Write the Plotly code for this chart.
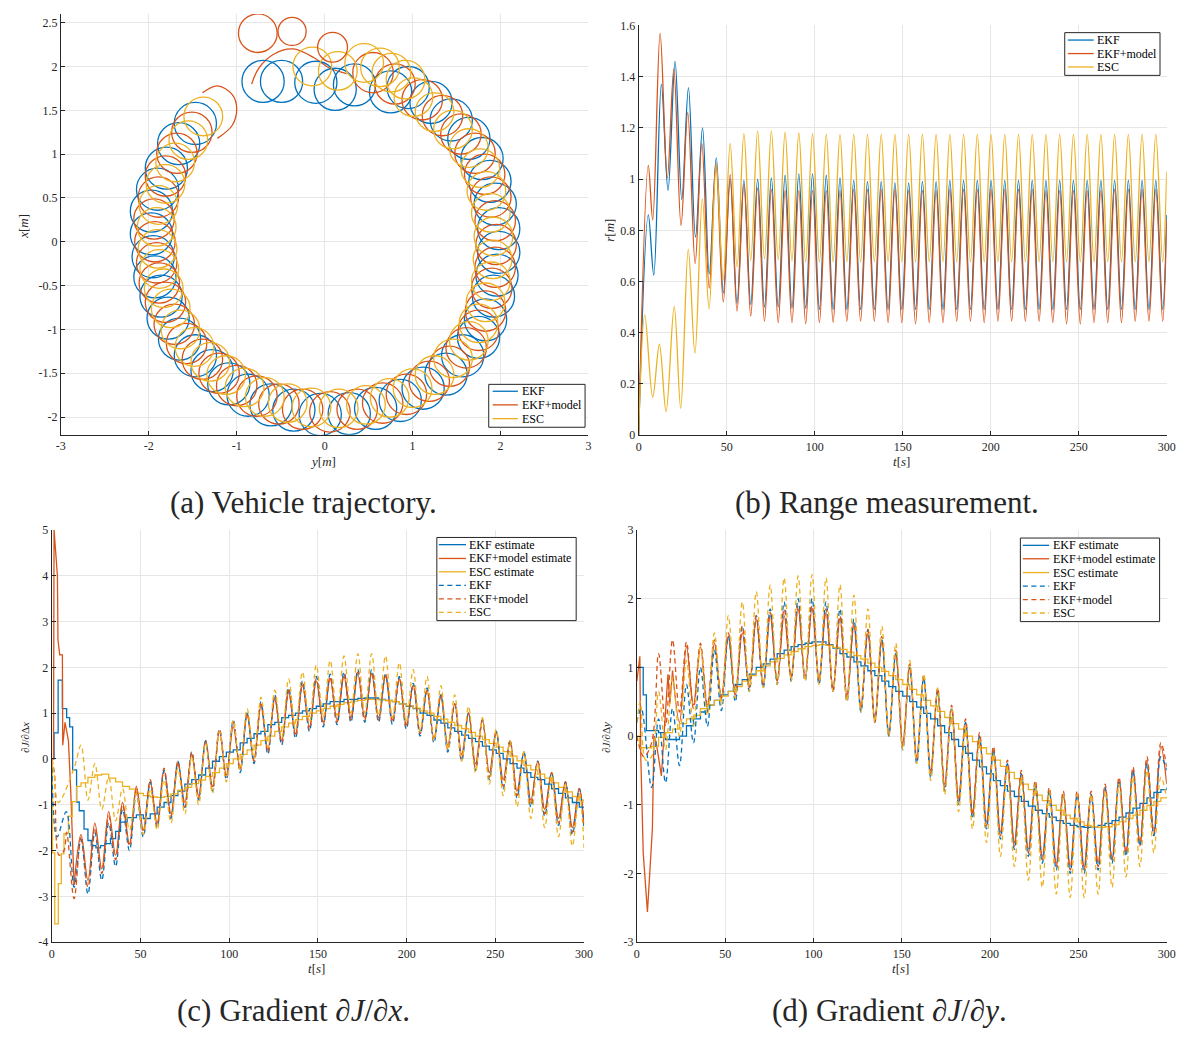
import plotly.graph_objects as go

W, H = 1186, 1039
BLUE, RED, YEL = "#0072BD", "#D95319", "#EDB120"
FONT = "Liberation Serif"
INK = "#262626"
GRIDC = "#E6E6E6"
DASH = "5px,3.5px"

# ---------------- (a) Vehicle trajectory : loop centres ----------------
EKF_LOOP_Y = [-0.70, -0.49, -0.10, 0.12, 0.34, 0.75,
              -1.47, -1.66, -1.80, -1.90, -1.97, -1.97, -1.95, -1.93, -1.86, -1.78,
              -1.65, -1.47, -1.28, -1.09, -0.87, -0.61, -0.35, -0.05, 0.28, 0.58,
              0.86, 1.12, 1.38, 1.57, 1.75, 1.83, 1.92, 1.96, 1.98, 1.98,
              1.94, 1.88, 1.79, 1.64, 1.44, 1.21, 0.95]
EKF_LOOP_X = [1.83, 1.83, 1.82, 1.74, 1.79, 1.71,
              1.35, 1.12, 0.84, 0.60, 0.35, 0.09, -0.17, -0.40, -0.62, -0.87,
              -1.11, -1.30, -1.47, -1.62, -1.75, -1.86, -1.92, -1.97, -1.96, -1.90,
              -1.81, -1.67, -1.51, -1.30, -1.09, -0.89, -0.62, -0.38, -0.12, 0.15,
              0.43, 0.69, 0.95, 1.18, 1.39, 1.59, 1.76]
EKF_LOOP_R = 0.24

MOD_LOOP_Y = [0.80, 0.55,
              -1.51, -1.68, -1.81, -1.89, -1.94, -1.93, -1.91, -1.88, -1.81, -1.71,
              -1.57, -1.39, -1.20, -1.00, -0.77, -0.52, -0.25, 0.06, 0.37, 0.66,
              0.93, 1.19, 1.42, 1.61, 1.75, 1.83, 1.90, 1.94, 1.95, 1.94,
              1.89, 1.82, 1.71, 1.55, 1.34, 1.11]
MOD_LOOP_X = [1.80, 1.93,
              1.25, 1.01, 0.75, 0.51, 0.26, 0.00, -0.24, -0.47, -0.69, -0.94,
              -1.16, -1.34, -1.50, -1.64, -1.76, -1.85, -1.91, -1.94, -1.91, -1.84,
              -1.74, -1.59, -1.42, -1.21, -1.01, -0.79, -0.53, -0.29, -0.03, 0.24,
              0.51, 0.77, 1.01, 1.23, 1.44, 1.62]
MOD_LOOP_R = 0.23
MOD_PETAL_Y = [-0.76, -0.37, 0.09]
MOD_PETAL_X = [2.38, 2.40, 2.22]
MOD_PETAL_R = [0.22, 0.16, 0.17]
MOD_ARC_Y = [-0.83, -0.75, -0.58, -0.36, -0.12, 0.06, 0.25]
MOD_ARC_X = [1.80, 1.98, 2.14, 2.20, 2.10, 1.98, 1.92]
MOD_HOOK_Y = [-1.39, -1.22, -1.05, -1.00, -1.05, -1.22]
MOD_HOOK_X = [1.70, 1.78, 1.68, 1.52, 1.33, 1.18]

ESC_LOOP_Y = [-0.14, 0.15, 0.45, 0.63, 0.76, 0.92, -1.38,
              -1.55, -1.70, -1.81, -1.89, -1.91, -1.90, -1.88, -1.83, -1.75, -1.64,
              -1.48, -1.30, -1.12, -0.91, -0.68, -0.42, -0.15, 0.16, 0.47, 0.74,
              1.00, 1.25, 1.46, 1.64, 1.75, 1.83, 1.89, 1.91, 1.92, 1.89,
              1.84, 1.77, 1.64, 1.46, 1.25, 1.01]
ESC_LOOP_X = [2.00, 1.95, 2.04, 1.99, 1.93, 1.85, 1.43,
              1.16, 0.905, 0.66, 0.42, 0.17, -0.08, -0.31, -0.53, -0.76, -1.00,
              -1.20, -1.37, -1.52, -1.66, -1.77, -1.84, -1.89, -1.90, -1.86, -1.78,
              -1.67, -1.52, -1.33, -1.13, -0.93, -0.69, -0.45, -0.20, 0.06, 0.33,
              0.58, 0.84, 1.07, 1.28, 1.48, 1.65]
ESC_LOOP_R = 0.22

# ---------------- (b) Range measurement : extremes (t, r) ----------------
GRID_B = [52.0, 55.9, 59.8, 63.7, 67.6,
          71.5, 75.4, 79.3, 83.2, 87.1,
          91.0, 94.9, 98.8, 102.7, 106.6,
          110.5, 114.4, 118.3, 122.2, 126.1,
          130.0, 133.9, 137.8, 141.7, 145.6,
          149.5, 153.4, 157.3, 161.2, 165.1,
          169.0, 172.9, 176.8, 180.7, 184.6,
          188.5, 192.4, 196.3, 200.2, 204.1,
          208.0, 211.9, 215.8, 219.7, 223.6,
          227.5, 231.4, 235.3, 239.2, 243.1,
          247.0, 250.9, 254.8, 258.7, 262.6,
          266.5, 270.4, 274.3, 278.2, 282.1,
          286.0, 289.9, 293.8, 297.7, 300.0]

R_EKF_T0 = [0, 5.5, 8.6, 12.9, 16.7, 20.7, 24.5, 28.3, 32.3, 36.3, 40.1, 44.1, 48.1]
R_EKF_V0 = [0, 0.86, 0.625, 1.37, 0.956, 1.46, 0.92, 1.357, 0.773, 1.2, 0.63, 1.083, 0.555]
R_EKF = [1.0, 0.515, 0.995, 0.51, 1.0,
         0.5, 1.005, 0.5, 1.015, 0.495,
         1.02, 0.495, 1.02, 0.49, 1.015,
         0.49, 1.005, 0.49, 0.995, 0.49,
         0.99, 0.49, 0.99, 0.49, 0.985,
         0.49, 0.985, 0.49, 0.99, 0.49,
         0.99, 0.49, 0.995, 0.49, 0.995,
         0.49, 0.995, 0.49, 0.995, 0.49,
         0.995, 0.49, 0.995, 0.49, 0.995,
         0.49, 0.995, 0.49, 0.995, 0.49,
         0.995, 0.49, 0.995, 0.49, 0.995,
         0.49, 0.995, 0.49, 0.995, 0.49,
         0.995, 0.49, 0.995, 0.49, 0.86]

R_MOD_T0 = [0, 5.5, 8.0, 12.2, 16.3, 20.0, 24.1, 27.9, 32.1, 35.9, 40.1, 43.9, 48.1]
R_MOD_V0 = [0, 1.053, 0.84, 1.569, 1.004, 1.43, 0.818, 1.26, 0.67, 1.139, 0.574, 1.06, 0.52]
R_MOD = [1.017, 0.484, 0.978, 0.465, 0.965,
         0.445, 0.96, 0.44, 0.955, 0.44,
         0.955, 0.435, 0.955, 0.44, 0.955,
         0.44, 0.955, 0.445, 0.96, 0.445,
         0.96, 0.445, 0.96, 0.44, 0.96,
         0.44, 0.955, 0.435, 0.955, 0.44,
         0.955, 0.44, 0.96, 0.445, 0.96,
         0.445, 0.96, 0.44, 0.96, 0.445,
         0.96, 0.445, 0.96, 0.445, 0.96,
         0.445, 0.955, 0.44, 0.955, 0.435,
         0.955, 0.435, 0.955, 0.44, 0.955,
         0.44, 0.96, 0.44, 0.96, 0.445,
         0.96, 0.445, 0.96, 0.445, 0.84]

R_ESC_T0 = [0, 3.5, 8.0, 11.8, 15.6, 20.2, 23.9, 28.2, 32.0, 36.2, 40.0, 44.1, 48.0]
R_ESC_V0 = [0, 0.47, 0.148, 0.355, 0.092, 0.503, 0.105, 0.725, 0.32, 0.923, 0.493, 1.06, 0.606]
R_ESC = [1.139, 0.657, 1.177, 0.683, 1.187,
         0.689, 1.187, 0.685, 1.183, 0.68,
         1.18, 0.677, 1.177, 0.677, 1.175,
         0.677, 1.175, 0.677, 1.175, 0.677,
         1.175, 0.677, 1.175, 0.677, 1.175,
         0.677, 1.175, 0.677, 1.175, 0.677,
         1.175, 0.677, 1.175, 0.677, 1.175,
         0.677, 1.175, 0.677, 1.175, 0.677,
         1.175, 0.677, 1.175, 0.677, 1.175,
         0.677, 1.175, 0.677, 1.175, 0.677,
         1.175, 0.677, 1.175, 0.677, 1.175,
         0.677, 1.175, 0.677, 1.175, 0.677,
         1.175, 0.677, 1.175, 0.677, 1.03]

# ---------------- (c) Gradient dJ/dx ----------------
GRID_C = [12.6, 16.5, 20.4, 24.3, 28.2,
          32.1, 36.0, 39.9, 43.8, 47.7,
          51.6, 55.5, 59.4, 63.3, 67.2,
          71.1, 75.0, 78.9, 82.8, 86.7,
          90.6, 94.5, 98.4, 102.3, 106.2,
          110.1, 114.0, 117.9, 121.8, 125.7,
          129.6, 133.5, 137.4, 141.3, 145.2,
          149.1, 153.0, 156.9, 160.8, 164.7,
          168.6, 172.5, 176.4, 180.3, 184.2,
          188.1, 192.0, 195.9, 199.8, 203.7,
          207.6, 211.5, 215.4, 219.3, 223.2,
          227.1, 231.0, 234.9, 238.8, 242.7,
          246.6, 250.5, 254.4, 258.3, 262.2,
          266.1, 270.0, 273.9, 277.8, 281.7,
          285.6, 289.5, 293.4, 297.3, 300.0]

GX_EKF_EST_T0 = [0, 1.3, 3.6, 6.0, 8.4, 10.1, 11.8, 14.0, 15.5, 18.2, 20.4, 22.3,
                 24.9, 27.5, 29.8, 33.1, 36.0, 38.8, 42.5]
GX_EKF_EST_V0 = [0, 0.57, 1.72, 1.1, 0.9, 0.7, -0.24, -0.94, -1.13, -1.53, -1.78, -1.89,
                 -1.94, -1.89, -1.85, -1.74, -1.58, -1.38, -1.28]
GX_EKF_EST = [-1.22,
              -1.3, -1.2, -1.05, -0.95, -0.8,
              -0.7, -0.55, -0.45, -0.35, -0.2,
              -0.05, 0.05, 0.15, 0.2, 0.35,
              0.45, 0.55, 0.6, 0.75, 0.8,
              0.9, 0.95, 1.0, 1.05, 1.1,
              1.15, 1.2, 1.25, 1.25, 1.3,
              1.3, 1.32, 1.33, 1.33, 1.3,
              1.28, 1.25, 1.2, 1.15, 1.1,
              1.0, 0.95, 0.85, 0.78, 0.68,
              0.6, 0.52, 0.45, 0.38, 0.28,
              0.2, 0.12, 0.0, -0.1, -0.2,
              -0.3, -0.4, -0.45, -0.55, -0.65,
              -0.75, -0.85, -0.95, -1.05, -1.05]

GX_MOD_EST_T0 = [0, 1.0, 1.3, 3.2, 3.5, 4.5, 6.0, 6.2, 7.5, 8.5, 9.4, 10.7]
GX_MOD_EST_V0 = [0, 0, 5.0, 4.0, 2.6, 2.27, 2.27, 0.3, 0.8, 0.55, 0.4, -0.7]
GX_MOD_EST = [-2.75, -1.65, -2.65, -1.4, -2.4,
              -1.15, -2.1, -0.95, -1.85, -0.6,
              -1.55, -0.5, -1.4, -0.25, -1.2,
              -0.1, -0.95, 0.1, -0.8, 0.35,
              -0.6, 0.6, -0.35, 0.7, -0.2,
              0.95, 0.0, 1.15, 0.2, 1.3,
              0.4, 1.45, 0.55, 1.6, 0.7,
              1.7, 0.8, 1.75, 0.85, 1.8,
              0.9, 1.85, 0.9, 1.85, 0.9,
              1.8, 0.85, 1.75, 0.75, 1.6,
              0.6, 1.5, 0.45, 1.35, 0.3,
              1.2, 0.1, 1.0, -0.1, 0.85,
              -0.3, 0.6, -0.45, 0.4, -0.7,
              0.15, -0.9, -0.05, -1.1, -0.3,
              -1.3, -0.5, -1.5, -0.65, -1.45]

GX_ESC_EST_T0 = [0, 0.4, 1.7, 3.7, 5.4, 6.9, 9.4, 11.6, 14.0]
GX_ESC_EST_V0 = [0, -2.05, -3.6, -2.72, -2.07, -1.63, -1.25, -0.93, -0.6]
GX_ESC_EST = [-0.52, -0.4, -0.35, -0.33,
              -0.42, -0.5, -0.6, -0.66, -0.75,
              -0.8, -0.83, -0.84, -0.82, -0.76,
              -0.68, -0.62, -0.54, -0.46, -0.38,
              -0.3, -0.2, -0.1, 0.0, 0.1,
              0.2, 0.3, 0.4, 0.5, 0.6,
              0.7, 0.78, 0.86, 0.93, 1.0,
              1.05, 1.1, 1.15, 1.19, 1.23,
              1.26, 1.28, 1.3, 1.3, 1.29,
              1.27, 1.25, 1.2, 1.16, 1.11,
              1.05, 1.0, 0.93, 0.87, 0.8,
              0.73, 0.66, 0.58, 0.5, 0.42,
              0.34, 0.26, 0.16, 0.06, -0.04,
              -0.14, -0.24, -0.33, -0.42, -0.52,
              -0.62, -0.72, -0.82, -0.9, -0.96]

GX_EKF_T0 = [0, 3.0, 8.2]
GX_EKF_V0 = [0, -1.7, -1.15]
GX_EKF = [-2.8, -1.75, -2.95, -1.6, -2.65,
          -1.4, -2.35, -1.1, -2.0, -0.75,
          -1.7, -0.5, -1.5, -0.25, -1.3,
          -0.05, -1.1, 0.15, -0.9, 0.4,
          -0.7, 0.65, -0.45, 0.85, -0.3,
          1.0, -0.1, 1.25, 0.1, 1.4,
          0.3, 1.55, 0.45, 1.7, 0.6,
          1.8, 0.7, 1.85, 0.75, 1.9,
          0.8, 1.95, 0.8, 1.95, 0.8,
          1.85, 0.75, 1.8, 0.65, 1.65,
          0.5, 1.55, 0.35, 1.4, 0.15,
          1.2, -0.05, 1.0, -0.25, 0.85,
          -0.45, 0.6, -0.65, 0.4, -0.85,
          0.15, -1.05, -0.05, -1.25, -0.3,
          -1.45, -0.5, -1.65, -0.65, -1.55]

GX_MOD_T0 = [0, 1.5, 4.1, 6.9, 8.4]
GX_MOD_V0 = [0, -0.3, -2.1, -2.0, -1.6]
GX_MOD = [-3.05, -1.7, -2.8, -1.5, -2.5,
          -1.25, -2.2, -1.0, -1.9, -0.65,
          -1.6, -0.45, -1.45, -0.2, -1.25,
          -0.05, -1.05, 0.15, -0.85, 0.4,
          -0.65, 0.65, -0.4, 0.8, -0.25,
          1.0, -0.05, 1.2, 0.15, 1.35,
          0.35, 1.5, 0.5, 1.65, 0.65,
          1.75, 0.75, 1.8, 0.8, 1.85,
          0.85, 1.9, 0.85, 1.9, 0.85,
          1.85, 0.8, 1.75, 0.7, 1.6,
          0.55, 1.5, 0.4, 1.4, 0.2,
          1.2, 0.0, 1.0, -0.2, 0.85,
          -0.4, 0.6, -0.6, 0.4, -0.8,
          0.15, -1.0, -0.05, -1.2, -0.3,
          -1.4, -0.5, -1.6, -0.65, -1.5]

GX_ESC_T0 = [0, 1.3, 3.7]
GX_ESC_V0 = [0, -0.3, -0.95]
GX_ESC = [-0.2, 0.3, -0.9, -0.1, -1.1,
          -0.4, -1.35, -0.65, -1.55, -0.75,
          -1.65, -0.65, -1.55, -0.45, -1.4,
          -0.2, -1.2, 0.05, -1.0, 0.35,
          -0.75, 0.6, -0.5, 0.85, -0.25,
          1.1, 0.0, 1.35, 0.25, 1.5,
          0.45, 1.75, 0.65, 1.9, 0.8,
          2.05, 0.9, 2.15, 0.95, 2.25,
          1.0, 2.3, 1.0, 2.3, 0.95,
          2.25, 0.9, 2.1, 0.8, 1.95,
          0.6, 1.8, 0.4, 1.6, 0.2,
          1.4, -0.05, 1.15, -0.3, 0.9,
          -0.55, 0.65, -0.8, 0.4, -1.05,
          0.15, -1.3, -0.1, -1.5, -0.35,
          -1.7, -0.55, -1.9, -0.75, -1.95]

# ---------------- (d) Gradient dJ/dy ----------------
GRID_D = [8.35, 12.3, 16.25, 20.2, 24.15,
          28.1, 32.05, 36.0, 39.95, 43.9,
          47.85, 51.8, 55.75, 59.7, 63.65,
          67.6, 71.55, 75.5, 79.45, 83.4,
          87.35, 91.3, 95.25, 99.2, 103.15,
          107.1, 111.05, 115.0, 118.95, 122.9,
          126.85, 130.8, 134.75, 138.7, 142.65,
          146.6, 150.55, 154.5, 158.45, 162.4,
          166.35, 170.3, 174.25, 178.2, 182.15,
          186.1, 190.05, 194.0, 197.95, 201.9,
          205.85, 209.8, 213.75, 217.7, 221.65,
          225.6, 229.55, 233.5, 237.45, 241.4,
          245.35, 249.3, 253.25, 257.2, 261.15,
          265.1, 269.05, 273.0, 276.95, 280.9,
          284.85, 288.8, 292.75, 296.7, 300.0]

GY_EKF_EST_T0 = [0, 3.6, 5.4]
GY_EKF_EST_V0 = [1.0, 0.6, 0.08]
GY_EKF_EST = [0.08, 0.05, -0.05, -0.05, 0.0,
              0.15, 0.25, 0.35, 0.45, 0.52,
              0.6, 0.65, 0.75, 0.82, 0.9,
              1.0, 1.05, 1.12, 1.2, 1.25,
              1.3, 1.33, 1.35, 1.37, 1.37,
              1.33, 1.28, 1.2, 1.15, 1.08,
              1.02, 0.95, 0.88, 0.8, 0.72,
              0.65, 0.58, 0.5, 0.42, 0.33,
              0.25, 0.15, 0.05, -0.05, -0.15,
              -0.25, -0.35, -0.45, -0.55, -0.65,
              -0.72, -0.8, -0.88, -0.95, -1.02,
              -1.08, -1.13, -1.18, -1.23, -1.27,
              -1.3, -1.32, -1.33, -1.32, -1.3,
              -1.27, -1.23, -1.18, -1.12, -1.05,
              -0.98, -0.9, -0.82, -0.78, -0.75]

GY_MOD_EST_T0 = [0, 1.7, 2.2, 3.6, 6.0, 7.9, 8.8, 9.7, 11.0, 13.9, 15.4, 17.6, 18.7]
GY_MOD_EST_V0 = [0.8, 1.16, -0.27, -1.7, -2.56, -1.73, -1.35, 0.0, -0.1, -0.58, 0.04, 0.9, 0.47]
GY_MOD_EST = [0.95, 0.2,
              1.3, 0.45, 1.3, 0.4, 1.35,
              0.55, 1.45, 0.6, 1.5, 0.7,
              1.7, 0.75, 1.75, 0.8, 1.75,
              0.85, 1.85, 0.85, 1.85, 0.85,
              1.8, 0.7, 1.7, 0.6, 1.6,
              0.45, 1.5, 0.25, 1.4, 0.05,
              1.2, -0.1, 1.0, -0.3, 0.85,
              -0.5, 0.65, -0.7, 0.4, -0.9,
              0.2, -1.1, 0.0, -1.25, -0.2,
              -1.4, -0.4, -1.55, -0.55, -1.65,
              -0.7, -1.75, -0.8, -1.85, -0.85,
              -1.9, -0.85, -1.9, -0.85, -1.85,
              -0.75, -1.8, -0.65, -1.7, -0.5,
              -1.6, -0.35, -1.45, -0.15, -0.7]

GY_ESC_EST_T0 = [0, 1.5]
GY_ESC_EST_V0 = [0.0, -0.17]
GY_ESC_EST = [-0.15, -0.02, 0.05, 0.1, 0.18,
              0.25, 0.3, 0.4, 0.45, 0.52,
              0.58, 0.65, 0.72, 0.8, 0.88,
              0.95, 1.02, 1.08, 1.13, 1.18,
              1.23, 1.27, 1.3, 1.32, 1.33,
              1.32, 1.29, 1.26, 1.22, 1.17,
              1.12, 1.06, 1.0, 0.94, 0.88,
              0.82, 0.75, 0.68, 0.6, 0.52,
              0.44, 0.36, 0.27, 0.18, 0.1,
              0.0, -0.08, -0.17, -0.26, -0.35,
              -0.44, -0.53, -0.62, -0.7, -0.78,
              -0.86, -0.94, -1.01, -1.08, -1.15,
              -1.2, -1.25, -1.3, -1.32, -1.33,
              -1.32, -1.29, -1.25, -1.2, -1.15,
              -1.08, -1.01, -0.95, -0.9, -0.88]

GY_EKF_T0 = [0, 2.5]
GY_EKF_V0 = [0.2, 0.4]
GY_EKF = [-0.75, 0.25, -0.68, 0.4, -0.43,
          0.75, -0.1, 1.0, 0.14, 1.25,
          0.37, 1.45, 0.5, 1.6, 0.65,
          1.75, 0.7, 1.85, 0.75, 1.95,
          0.8, 2.0, 0.8, 2.0, 0.75,
          1.95, 0.65, 1.85, 0.5, 1.7,
          0.35, 1.55, 0.2, 1.4, 0.0,
          1.2, -0.2, 1.0, -0.4, 0.85,
          -0.6, 0.65, -0.8, 0.4, -1.0,
          0.2, -1.2, 0.0, -1.35, -0.2,
          -1.5, -0.4, -1.65, -0.55, -1.75,
          -0.7, -1.85, -0.8, -1.95, -0.85,
          -2.0, -0.85, -2.0, -0.85, -1.95,
          -0.75, -1.85, -0.65, -1.75, -0.5,
          -1.6, -0.4, -1.45, -0.3, -0.5]

GY_MOD_T0 = [0, 4.0]
GY_MOD_V0 = [0.0, -0.3]
GY_MOD = [-0.1, 1.2, 0.15, 1.4, 0.35,
          1.37, 0.4, 1.35, 0.45, 1.4,
          0.55, 1.5, 0.6, 1.6, 0.7,
          1.75, 0.75, 1.8, 0.8, 1.85,
          0.85, 1.9, 0.85, 1.9, 0.8,
          1.85, 0.65, 1.75, 0.55, 1.65,
          0.4, 1.55, 0.2, 1.45, 0.0,
          1.25, -0.15, 1.05, -0.35, 0.9,
          -0.55, 0.7, -0.75, 0.45, -0.95,
          0.25, -1.15, 0.05, -1.3, -0.15,
          -1.45, -0.35, -1.6, -0.5, -1.7,
          -0.65, -1.8, -0.75, -1.9, -0.8,
          -1.95, -0.8, -1.95, -0.8, -1.9,
          -0.7, -1.8, -0.6, -1.7, -0.45,
          -1.55, -0.3, -1.4, -0.1, -0.45]

GY_ESC_T0 = [0, 2.0, 5.0]
GY_ESC_V0 = [0.2, 0.5, -0.35]
GY_ESC = [-0.3, 0.65, -0.2, 0.85, 0.0,
          1.1, 0.15, 1.3, 0.3, 1.5,
          0.45, 1.75, 0.55, 1.95, 0.65,
          2.1, 0.7, 2.2, 0.75, 2.3,
          0.8, 2.33, 0.8, 2.35, 0.75,
          2.3, 0.65, 2.2, 0.5, 2.05,
          0.35, 1.85, 0.2, 1.6, 0.0,
          1.35, -0.2, 1.1, -0.4, 0.9,
          -0.65, 0.7, -0.85, 0.4, -1.1,
          0.15, -1.35, -0.05, -1.55, -0.25,
          -1.75, -0.45, -1.9, -0.6, -2.1,
          -0.7, -2.2, -0.8, -2.3, -0.85,
          -2.35, -0.85, -2.35, -0.85, -2.3,
          -0.8, -2.2, -0.7, -2.05, -0.6,
          -1.9, -0.5, -1.7, -0.6, -0.9]

LEG_A = ["EKF", "EKF+model", "ESC"]
LEG_C = ["EKF estimate", "EKF+model estimate", "ESC estimate", "EKF", "EKF+model", "ESC"]


def series(t0, v0, grid, vals):
    start = len(grid) - len(vals)
    assert start >= 0
    return list(t0) + grid[start:], list(v0) + list(vals)


def px(x):
    return x / W


def py(y):
    return 1 - y / H


fig = go.Figure()

# ---------- (a) ----------
shapes = []
for ys, xs, r, col in [(EKF_LOOP_Y, EKF_LOOP_X, EKF_LOOP_R, BLUE),
                       (MOD_LOOP_Y, MOD_LOOP_X, MOD_LOOP_R, RED),
                       (ESC_LOOP_Y, ESC_LOOP_X, ESC_LOOP_R, YEL)]:
    for cy, cx in zip(ys, xs):
        shapes.append(dict(type="circle", xref="x", yref="y",
                           x0=cy - r, x1=cy + r, y0=cx - r, y1=cx + r,
                           line=dict(color=col, width=1.3)))
for cy, cx, r in zip(MOD_PETAL_Y, MOD_PETAL_X, MOD_PETAL_R):
    shapes.append(dict(type="circle", xref="x", yref="y",
                       x0=cy - r, x1=cy + r, y0=cx - r, y1=cx + r,
                       line=dict(color=RED, width=1.3)))

for ys, xs in [(MOD_ARC_Y, MOD_ARC_X), (MOD_HOOK_Y, MOD_HOOK_X)]:
    fig.add_trace(go.Scatter(x=ys, y=xs, mode="lines", showlegend=False,
                             line=dict(color=RED, width=1.3, shape="spline"),
                             xaxis="x", yaxis="y"))

# ---------- (b) ----------
for name, col, t0, v0, vals in [(LEG_A[0], BLUE, R_EKF_T0, R_EKF_V0, R_EKF),
                                (LEG_A[1], RED, R_MOD_T0, R_MOD_V0, R_MOD),
                                (LEG_A[2], YEL, R_ESC_T0, R_ESC_V0, R_ESC)]:
    t, v = series(t0, v0, GRID_B, vals)
    fig.add_trace(go.Scatter(x=t, y=v, mode="lines", name=name, showlegend=False,
                             line=dict(color=col, width=1.3, shape="spline", smoothing=1.0),
                             xaxis="x2", yaxis="y2"))


# ---------- (c) & (d) ----------
def gradient_panel(xa, ya, grid, est, true):
    (bt0, bv0, bv), (rt0, rv0, rv), (yt0, yv0, yv) = est
    t, v = series(bt0, bv0, grid, bv)
    fig.add_trace(go.Scatter(x=t, y=v, mode="lines", name=LEG_C[0], showlegend=False,
                             line=dict(color=BLUE, width=1.3, shape="hv"),
                             xaxis=xa, yaxis=ya))
    t, v = series(rt0, rv0, grid, rv)
    n0 = len(rt0)
    fig.add_trace(go.Scatter(x=t[:n0 + 1], y=v[:n0 + 1], mode="lines", showlegend=False,
                             line=dict(color=RED, width=1.3), xaxis=xa, yaxis=ya))
    fig.add_trace(go.Scatter(x=t[n0:], y=v[n0:], mode="lines", name=LEG_C[1], showlegend=False,
                             line=dict(color=RED, width=1.3, shape="spline", smoothing=1.0),
                             xaxis=xa, yaxis=ya))
    t, v = series(yt0, yv0, grid, yv)
    fig.add_trace(go.Scatter(x=t, y=v, mode="lines", name=LEG_C[2], showlegend=False,
                             line=dict(color=YEL, width=1.3, shape="hv"),
                             xaxis=xa, yaxis=ya))
    for (t0, v0, vals), col, nm in zip(true, [BLUE, RED, YEL], LEG_C[3:]):
        t, v = series(t0, v0, grid, vals)
        fig.add_trace(go.Scatter(x=t, y=v, mode="lines", name=nm, showlegend=False,
                                 line=dict(color=col, width=1.3, dash=DASH,
                                           shape="spline", smoothing=1.0),
                                 xaxis=xa, yaxis=ya))


gradient_panel("x3", "y3", GRID_C,
               [(GX_EKF_EST_T0, GX_EKF_EST_V0, GX_EKF_EST),
                (GX_MOD_EST_T0, GX_MOD_EST_V0, GX_MOD_EST),
                (GX_ESC_EST_T0, GX_ESC_EST_V0, GX_ESC_EST)],
               [(GX_EKF_T0, GX_EKF_V0, GX_EKF),
                (GX_MOD_T0, GX_MOD_V0, GX_MOD),
                (GX_ESC_T0, GX_ESC_V0, GX_ESC)])
gradient_panel("x4", "y4", GRID_D,
               [(GY_EKF_EST_T0, GY_EKF_EST_V0, GY_EKF_EST),
                (GY_MOD_EST_T0, GY_MOD_EST_V0, GY_MOD_EST),
                (GY_ESC_EST_T0, GY_ESC_EST_V0, GY_ESC_EST)],
               [(GY_EKF_T0, GY_EKF_V0, GY_EKF),
                (GY_MOD_T0, GY_MOD_V0, GY_MOD),
                (GY_ESC_T0, GY_ESC_V0, GY_ESC)])

ann = []


# ---------- legends drawn as boxes (pixel layout of the reference) ----------
def draw_legend(box, rows, names, colors, dashes, sample, text_x):
    x0, y0, x1, y1 = box
    shapes.append(dict(type="rect", xref="paper", yref="paper",
                       x0=px(x0), x1=px(x1), y0=py(y1), y1=py(y0),
                       fillcolor="white", line=dict(color=INK, width=1), layer="above"))
    for yr, nm, col, ds in zip(rows, names, colors, dashes):
        shapes.append(dict(type="line", xref="paper", yref="paper",
                           x0=px(sample[0]), x1=px(sample[1]), y0=py(yr), y1=py(yr),
                           line=dict(color=col, width=1.3, dash=ds), layer="above"))
        ann.append(dict(text=nm, x=px(text_x), y=py(yr), xref="paper", yref="paper",
                        showarrow=False, xanchor="left", yanchor="middle",
                        font=dict(family=FONT, size=12, color="black")))


draw_legend((489.5, 382.5, 587, 426), [389.5, 403.3, 417.3], LEG_A,
            [BLUE, RED, YEL], ["solid"] * 3, (493.5, 519), 521)
draw_legend((1072.4, 26, 1168.8, 69.3), [33.5, 47.2, 60.8], LEG_A,
            [BLUE, RED, YEL], ["solid"] * 3, (1075.5, 1101.7), 1103.5)
draw_legend((437, 537.7, 578, 622), [545, 559, 572.5, 586.3, 600, 613.7], LEG_C,
            [BLUE, RED, YEL] * 2, ["solid"] * 3 + [DASH] * 3, (439, 466.5), 468)
draw_legend((1027.5, 538.3, 1168.4, 623), [545.7, 559.3, 573.3, 587, 600.7, 614.3], LEG_C,
            [BLUE, RED, YEL] * 2, ["solid"] * 3 + [DASH] * 3, (1030, 1056.7), 1058.5)


def axis(vals=None, **kw):
    base = dict(showline=True, linecolor=INK, linewidth=1, ticks="inside", ticklen=4,
                tickcolor=INK, showgrid=True, gridcolor=GRIDC, gridwidth=1, zeroline=False,
                tickfont=dict(family=FONT, size=12, color=INK), mirror=False, fixedrange=True)
    if vals is not None:
        base.update(tickmode="array", tickvals=vals, ticktext=[f"{v:g}" for v in vals])
    base.update(kw)
    return base


fig.update_layout(
    width=W, height=H, margin=dict(l=0, r=0, t=0, b=0),
    paper_bgcolor="white", plot_bgcolor="white", showlegend=False,
    xaxis=axis([-3, -2, -1, 0, 1, 2, 3], domain=[px(56.5), px(590.4)], range=[-3, 3], anchor="y"),
    yaxis=axis([-2, -1.5, -1, -0.5, 0, 0.5, 1, 1.5, 2, 2.5],
               domain=[py(433.5), py(7)], range=[-2.2, 2.6], anchor="x"),
    xaxis2=axis([0, 50, 100, 150, 200, 250, 300],
                domain=[px(641.2), px(1175.6)], range=[0, 300], anchor="y2"),
    yaxis2=axis([0, 0.2, 0.4, 0.6, 0.8, 1, 1.2, 1.4, 1.6],
                domain=[py(434), py(18.7)], range=[0, 1.6], anchor="x2"),
    xaxis3=axis([0, 50, 100, 150, 200, 250, 300],
                domain=[px(47.3), px(586)], range=[0, 300], anchor="y3"),
    yaxis3=axis([-4, -3, -2, -1, 0, 1, 2, 3, 4, 5],
                domain=[py(948), py(530)], range=[-4, 5], anchor="x3"),
    xaxis4=axis([0, 50, 100, 150, 200, 250, 300],
                domain=[px(639.4), px(1175.6)], range=[0, 300], anchor="y4"),
    yaxis4=axis([-3, -2, -1, 0, 1, 2, 3],
                domain=[py(948), py(530)], range=[-3, 3], anchor="x4"),
)


def label(text, x, y, size=13, angle=0):
    ann.append(dict(text=text, x=px(x), y=py(y), xref="paper", yref="paper",
                    showarrow=False, textangle=angle, xanchor="center", yanchor="middle",
                    font=dict(family=FONT, size=size, color=INK)))


label("<i>y</i>[<i>m</i>]", 322, 461)
label("<i>x</i>[<i>m</i>]", 18, 222, angle=-90)
label("<i>t</i>[<i>s</i>]", 907, 461)
label("<i>r</i>[<i>m</i>]", 612, 226, angle=-90)
label("<i>t</i>[<i>s</i>]", 315, 975)
label("∂<i>J</i>/∂Δ<i>x</i>", 20, 740, size=11, angle=-90)
label("<i>t</i>[<i>s</i>]", 906, 975)
label("∂<i>J</i>/∂Δ<i>y</i>", 608, 740, size=11, angle=-90)
label("(a) Vehicle trajectory.", 302, 502, size=31)
label("(b) Range measurement.", 893, 502, size=31)
label("(c) Gradient ∂<i>J</i>/∂<i>x</i>.", 292, 1017, size=31)
label("(d) Gradient ∂<i>J</i>/∂<i>y</i>.", 895, 1017, size=31)
fig.update_layout(annotations=ann, shapes=shapes)

fig.write_html("out.html", config={"displayModeBar": False},
               post_script="document.body.style.margin='0px';")
